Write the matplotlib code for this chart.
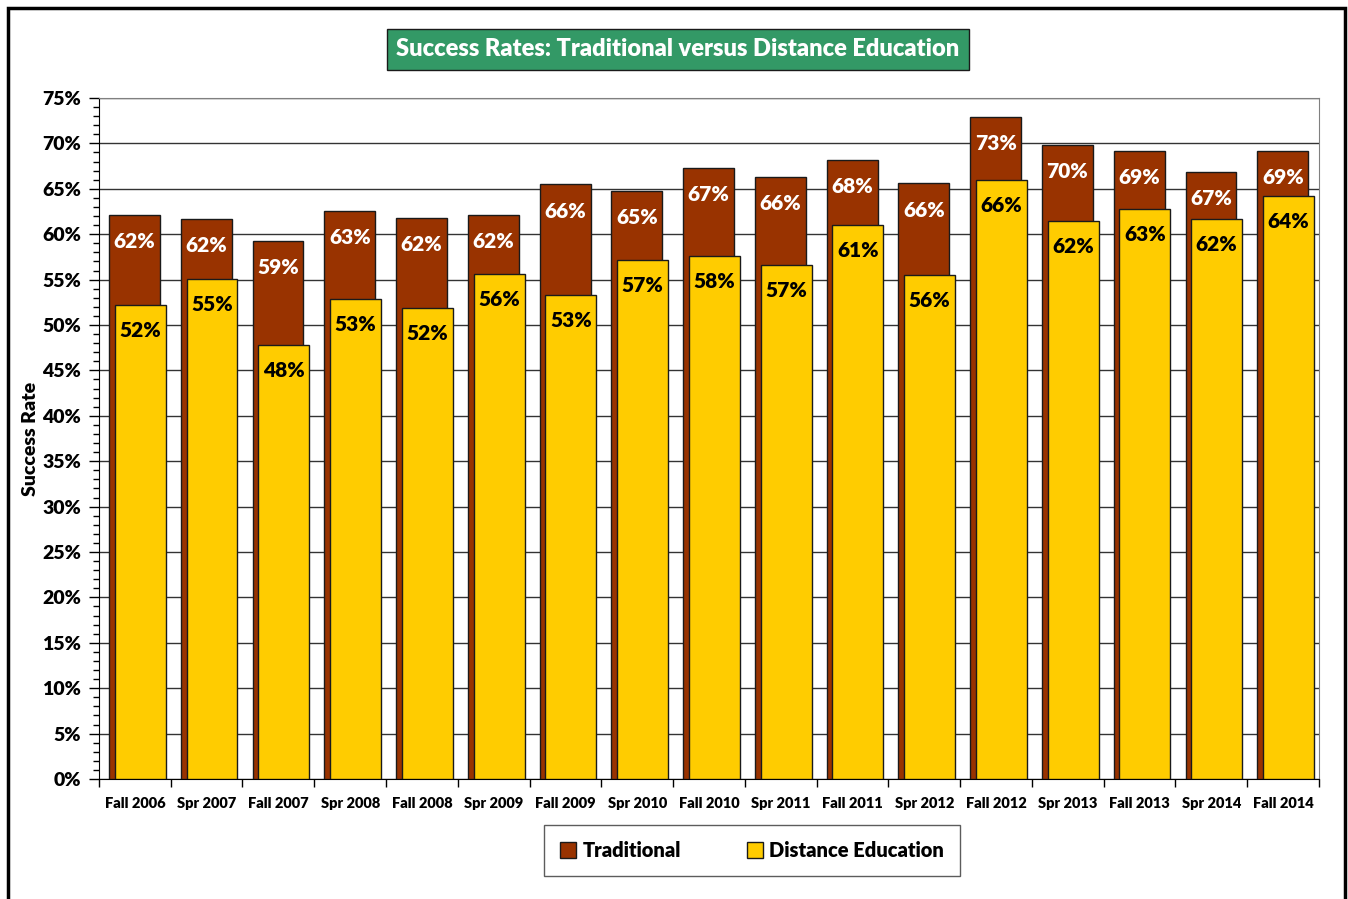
import matplotlib.pyplot as plt
import numpy as np
from matplotlib.patches import Rectangle
from matplotlib.ticker import MultipleLocator, PercentFormatter

plt.rcParams['font.family'] = ['Lato', 'DejaVu Sans']
W = 'heavy'
plt.rcParams['font.weight'] = W

# -----------------------------
# Data
# -----------------------------
terms = ['Fall 2006', 'Spr 2007', 'Fall 2007', 'Spr 2008', 'Fall 2008', 'Spr 2009',
         'Fall 2009', 'Spr 2010', 'Fall 2010', 'Spr 2011', 'Fall 2011', 'Spr 2012',
         'Fall 2012', 'Spr 2013', 'Fall 2013', 'Spr 2014', 'Fall 2014']
traditional = [62.1, 61.7, 59.3, 62.6, 61.8, 62.1, 65.5, 64.8, 67.3, 66.3, 68.2,
               65.6, 72.9, 69.8, 69.2, 66.9, 69.2]
distance_ed = [52.2, 55.1, 47.8, 52.9, 51.9, 55.6, 53.3, 57.2, 57.6, 56.6, 61.0,
               55.5, 66.0, 61.5, 62.8, 61.7, 64.2]

trad_color = '#993300'
de_color = '#FFCC00'
x = np.arange(len(terms))
width = 0.71

fig = plt.figure(figsize=(13.48, 8.99), dpi=100)
ax = fig.add_axes([0.0734, 0.1335, 0.9051, 0.7575])

trad_bars = ax.bar(x - 0.005, traditional, width, color=trad_color,
                   edgecolor='#1a1a1a', linewidth=1, label='Traditional', zorder=3)
de_bars = ax.bar(x + 0.075, distance_ed, width, color=de_color,
                 edgecolor='#1a1a1a', linewidth=1, label='Distance Education', zorder=4)

# value labels just inside the top of each bar
for b, v in zip(trad_bars, traditional):
    ax.text(b.get_x() + b.get_width() / 2, v - 1.9, f'{v:.0f}%', ha='center', va='top',
            color='white', fontsize=15, fontweight=W, zorder=5)
for b, v in zip(de_bars, distance_ed):
    ax.text(b.get_x() + b.get_width() / 2, v - 1.8, f'{v:.0f}%', ha='center', va='top',
            color='black', fontsize=15, fontweight=W, zorder=5)

ax.set_xlim(-0.5, len(terms) - 0.5)
ax.set_ylim(0, 75)
ax.yaxis.set_major_locator(MultipleLocator(5))
ax.yaxis.set_minor_locator(MultipleLocator(1))
ax.yaxis.set_major_formatter(PercentFormatter(decimals=0))
ax.grid(axis='y', which='major', color='#333333', linewidth=1, zorder=0)
ax.set_axisbelow(True)

ax.set_xticks(x)
ax.set_xticklabels(terms, fontsize=10.5, fontweight=W)
ax.tick_params(axis='x', length=0, pad=13)
ax.set_xticks(np.arange(-0.5, len(terms)), minor=True)
ax.tick_params(axis='x', which='minor', length=6, width=1, direction='out')
ax.tick_params(axis='y', which='major', labelsize=14, length=7, width=1, pad=6)
ax.tick_params(axis='y', which='minor', length=4, width=1)
for lab in ax.get_yticklabels():
    lab.set_fontweight(W)

for side in ['top', 'right']:
    ax.spines[side].set_color('#808080')
ax.spines['left'].set_color('black')
ax.spines['bottom'].set_color('black')

ax.set_ylabel('Success Rate', fontsize=14, fontweight=W, labelpad=2)

# title in a green box
fig.text(0.503, 0.945, 'Success Rates: Traditional versus Distance Education',
         ha='center', va='center', color='white', fontsize=17, fontweight=W,
         bbox=dict(boxstyle='square,pad=0.4', facecolor='#339966', edgecolor='#1a1a1a',
                   linewidth=1))

leg = fig.legend(handles=[trad_bars, de_bars], loc='center', bbox_to_anchor=(0.558, 0.054),
                 ncol=2, fontsize=14.5, frameon=True, fancybox=False, edgecolor='#333333',
                 handlelength=0.8, handleheight=0.8, columnspacing=3.3,
                 borderpad=0.8, handletextpad=0.3, borderaxespad=0)
leg.get_frame().set_linewidth(1)
for t in leg.get_texts():
    t.set_fontweight(W)

# outer chart border
fig.patches.append(Rectangle((0.006, -0.01), 0.992, 1.001, transform=fig.transFigure,
                             fill=False, edgecolor='black', linewidth=2.5))

fig.savefig('out.png', dpi=100)
